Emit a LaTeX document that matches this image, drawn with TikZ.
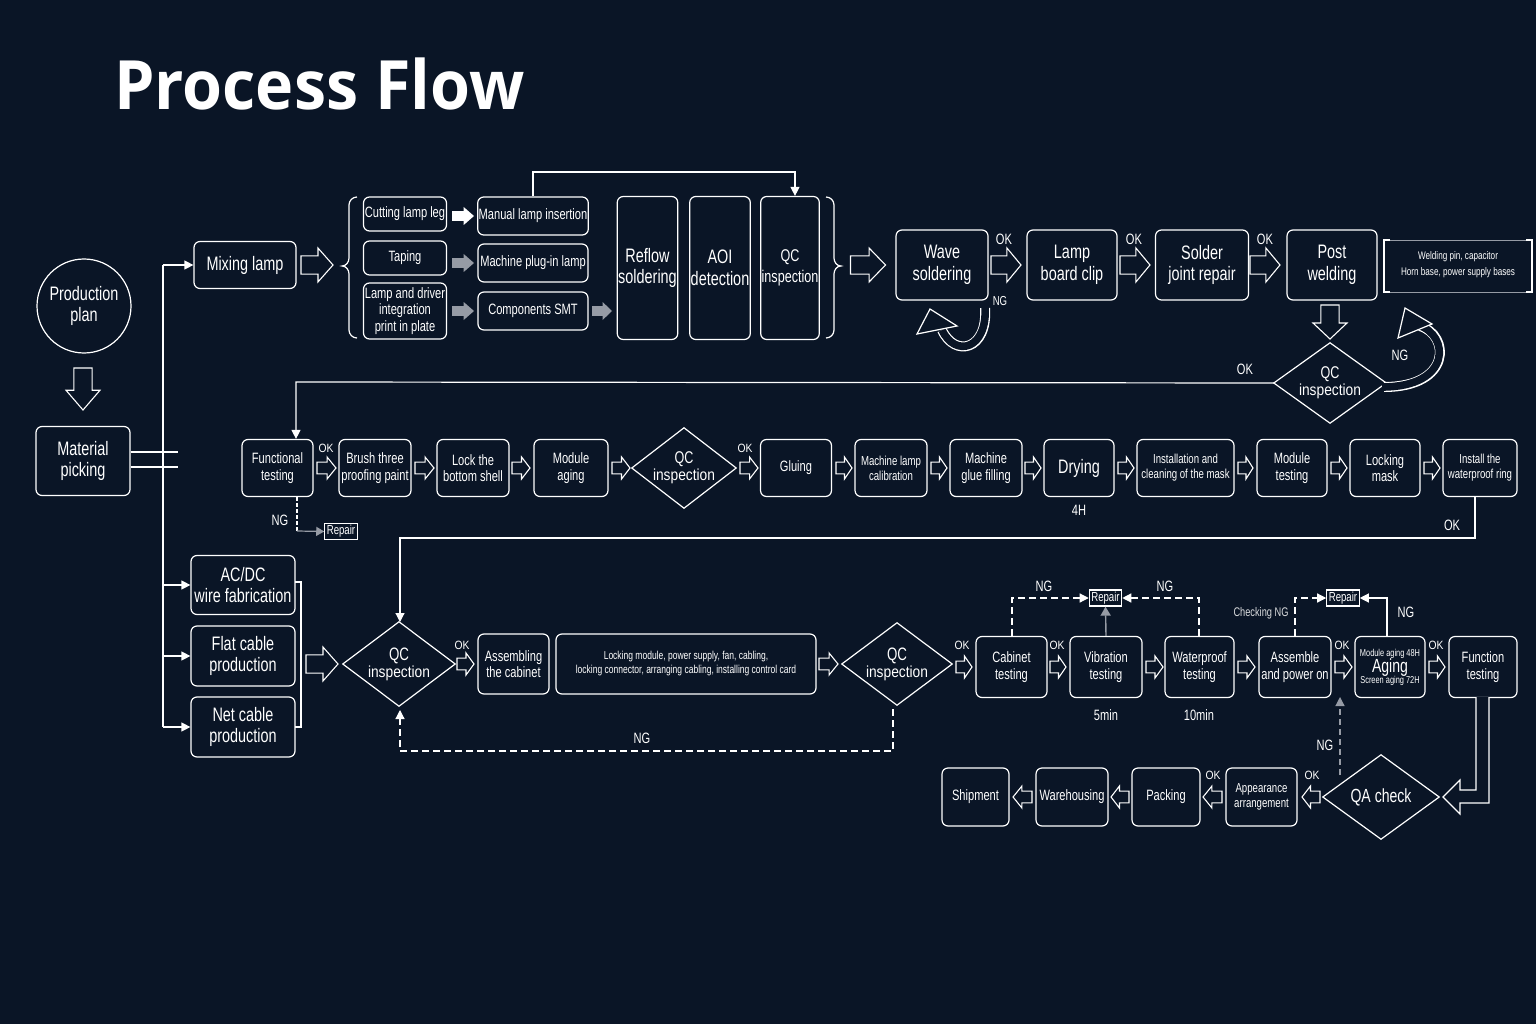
\documentclass[tikz,border=0pt]{standalone}
\usepackage{fontspec}
\setmainfont{Liberation Sans}[FakeStretch=0.86]
\newfontfamily\nar{Liberation Sans}[FakeStretch=0.74]
\newfontfamily\titlefont{Open Sans}[FakeStretch=0.95]
\usetikzlibrary{arrows.meta}
\definecolor{bg}{RGB}{10,21,38}
\definecolor{gr}{RGB}{150,155,165}
\tikzset{
 ln/.style={draw=white,line width=1.2pt},
 box/.style={ln,rounded corners=6pt,align=center,text=white,inner sep=1pt},
 sq/.style={ln,align=center,text=white,inner sep=2pt,font=\fontsize{12}{13}\selectfont},
 lab/.style={text=white,inner sep=1pt},
 hol/.style={draw=white,line width=1.1pt,fill=bg,line join=miter},
 tip/.style={-{Triangle[length=9pt,width=9pt]}},
 dsh/.style={ln,dash pattern=on 7pt off 4pt},
}
\newcommand\bx[7]{\node[box,minimum width=#4pt,minimum height=#5pt,font=#6] (#1) at (#2,#3) {#7};}
\newcommand\dia[6]{\node[lab,align=center,minimum width=#4pt,minimum height=#5pt,font=\fontsize{16}{17}\selectfont] (#1) at (#2,#3) {#6};
 \draw[ln] (#1.north)--(#1.east)--(#1.south)--(#1.west)--cycle;}
% cx cy length width rotation style
\newcommand\hb[6]{\begin{scope}[shift={(#1,#2)},rotate=#5]
 \pgfmathsetmacro\La{#3/2}\pgfmathsetmacro\Lb{#3/2-0.47*#3}\pgfmathsetmacro\Sa{0.27*#4}\pgfmathsetmacro\Ha{#4/2}
 \path[#6] (-\La,-\Sa)--(\Lb,-\Sa)--(\Lb,-\Ha)--(\La,0)--(\Lb,\Ha)--(\Lb,\Sa)--(-\La,\Sa)--cycle;
 \end{scope}}
\newcommand\ha[5]{\hb{#1}{#2}{#3}{#4}{#5}{hol}}
\begin{document}
\begin{tikzpicture}[x=1pt,y=-1pt]
\fill[bg] (0,0) rectangle (1536,1024);
\useasboundingbox (0,0) rectangle (1536,1024);
\def\F{\fontsize{19}{21}\selectfont}
\def\FN{\nar\fontsize{19.5}{21.5}\selectfont}
\def\M{\fontsize{14.5}{16}\selectfont}
\def\N{\nar\fontsize{15}{16.5}\selectfont}
\def\S{\fontsize{12}{13.5}\selectfont}
\def\T{\fontsize{10}{11.5}\selectfont}
\node[lab,anchor=west,font=\titlefont\bfseries\fontsize{68}{74}\selectfont] (title) at (113,84) {Process Flow};

% left
\node[ln,circle,minimum size=94pt,text=white,align=center,font=\FN] (plan) at (84,306) {Production\\plan};
\bx{pick}{83}{461}{94}{69}{\FN}{Material\\picking}
\ha{83}{389}{42}{34}{270}
\draw[ln] (pick.east|-0,452) -- (178,452);
\draw[ln] (pick.east|-0,467) -- (178,467);
\draw[ln] (163,265) -- (163,727);
\bx{mix}{245}{265}{102}{47}{\FN}{Mixing lamp}
\bx{acdc}{243}{585}{104}{59}{\FN}{AC/DC\\wire fabrication}
\bx{flat}{243}{656}{104}{60}{\FN}{Flat cable\\production}
\bx{net}{243}{727}{104}{60}{\FN}{Net cable\\production}
\foreach \n/\y in {mix/265,acdc/585,flat/656,net/727} \draw[ln,tip] (163,\y) -- (\n.west|-0,\y);
\ha{317}{265}{32}{34}{0}

% top group
\draw[ln] (357,197) to[out=180,in=90] (349,205) -- (349,258) to[out=270,in=0] (342,266) to[out=0,in=90] (349,274) -- (349,330) to[out=270,in=180] (357,338);
\draw[ln] (826,197) to[out=0,in=90] (834,205) -- (834,258) to[out=270,in=180] (841,266) to[out=180,in=90] (834,274) -- (834,330) to[out=270,in=0] (826,338);
\bx{cut}{405}{214}{83}{34}{\N}{Cutting lamp leg}
\bx{tap}{405}{258}{83}{34}{\N}{Taping}
\bx{ldi}{405}{311}{83}{56}{\N}{Lamp and driver\\integration\\print in plate}
\bx{man}{533}{216}{110}{38}{\N}{Manual lamp insertion}
\bx{mpl}{533}{263}{110}{38}{\N}{Machine plug-in lamp}
\bx{smt}{533}{311}{110}{38}{\N}{Components SMT}
\bx{ref}{647.5}{268}{59}{143}{\FN}{Reflow\\soldering}
\bx{aoi}{720}{268}{54}{143}{\FN}{AOI\\detection}
\bx{qc1}{790}{268}{50}{143}{\nar\fontsize{17}{21}\selectfont}{QC\\inspection}
\hb{463}{216}{22}{18}{0}{fill=white}
\hb{463}{263}{22}{18}{0}{fill=gr}
\hb{463}{311}{22}{18}{0}{fill=gr}
\hb{602}{311}{20}{18}{0}{fill=gr}
\draw[ln,tip] (man.north) -- (533,172) -- (795,172) -- (795,0 |- qc1.north);
\ha{868}{265}{35}{34}{0}

% wave row
\bx{wave}{942}{265}{92}{70}{\FN}{Wave\\soldering}
\bx{clip}{1072}{265}{90}{70}{\FN}{Lamp\\board clip}
\bx{sjr}{1202}{265}{93}{70}{\FN}{Solder\\joint repair}
\bx{post}{1332}{265}{90}{70}{\FN}{Post\\welding}
\ha{1006}{265}{30}{34}{0}\node[lab,font=\N] at (1004,239) {OK};
\ha{1135}{265}{30}{34}{0}\node[lab,font=\N] at (1134,239) {OK};
\ha{1265}{265}{30}{34}{0}\node[lab,font=\N] at (1265,239) {OK};
\node[lab,align=center,font=\nar\fontsize{11}{12}\selectfont,minimum width=148pt,minimum height=52pt] (weld) at (1458,265) {Welding pin, capacitor\\[4pt]Horn base, power supply bases};
\draw[ln] (1390,240)--(1384,240)--(1384,292)--(1390,292);
\draw[ln] (1526,240)--(1532,240)--(1532,292)--(1526,292);
\draw[gr,line width=0.6pt] (1390,240)--(1526,240) (1390,292)--(1526,292);
\node[lab,font=\nar\fontsize{13}{14}\selectfont] at (1000,301) {NG};
\draw[white,line width=10pt] (985,308) .. controls (988,350) and (955,358) .. (942,330);
\draw[bg,line width=7.6pt] (985,306) .. controls (988,350) and (955,358) .. (942,330);
\draw[ln,fill=bg,line join=miter] (930,309) -- (917,334) -- (957,326) -- cycle;
\ha{1330}{322}{34}{34}{270}
\dia{qc2}{1330}{383}{112}{80}{\nar\fontsize{17}{19}\selectfont QC\\inspection}
\draw[white,line width=10pt] (1384,387) .. controls (1452,387) and (1450,335) .. (1420,326);
\draw[bg,line width=7.6pt] (1382,387) .. controls (1452,387) and (1450,335) .. (1418,325);
\draw[ln,fill=bg,line join=miter] (1405,308) -- (1398,338) -- (1432,324) -- cycle;
\node[lab,font=\N] at (1400,355) {NG};

% row 2
\bx{func}{277.5}{468}{71}{57}{\N}{Functional\\testing}
\bx{brush}{375}{468}{72}{57}{\N}{Brush three\\proofing paint}
\bx{lock}{473}{468}{72}{57}{\N}{Lock the\\bottom shell}
\bx{mage}{571}{468}{74}{57}{\N}{Module\\aging}
\dia{qc3}{684}{468}{104}{80}{\nar\fontsize{17}{19}\selectfont QC\\inspection}
\bx{glue}{796}{468}{71}{57}{\N}{Gluing}
\bx{mlc}{891}{468}{72}{57}{\nar\fontsize{13}{15}\selectfont}{Machine lamp\\calibration}
\bx{mgf}{986}{468}{72}{57}{\N}{Machine\\glue filling}
\bx{dry}{1079}{468}{70}{57}{\FN}{Drying}
\bx{inst}{1185.5}{468}{97}{57}{\nar\fontsize{13}{15}\selectfont}{Installation and\\cleaning of the mask}
\bx{mtest}{1292}{468}{70}{57}{\N}{Module\\testing}
\bx{lmask}{1385}{468}{70}{57}{\N}{Locking\\mask}
\bx{ring}{1480}{468}{74}{57}{\nar\fontsize{13}{15}\selectfont}{Install the\\waterproof ring}
\ha{326.5}{468}{19}{22}{0}\ha{424.5}{468}{19}{22}{0}\ha{521}{468}{18}{22}{0}\ha{621}{468}{18}{22}{0}
\ha{749}{468}{18}{22}{0}\ha{844}{468}{16}{22}{0}\ha{939}{468}{16}{22}{0}\ha{1033}{468}{16}{22}{0}
\ha{1126}{468}{16}{22}{0}\ha{1245.5}{468}{15}{22}{0}\ha{1339}{468}{16}{22}{0}\ha{1432}{468}{16}{22}{0}
\node[lab,font=\S] at (326,448) {OK};
\node[lab,font=\S] at (745,448) {OK};
\node[lab,font=\N] at (1079,510) {4H};
\draw[ln,tip] (qc2.west) -- (296,382) -- (296,0 |- func.north);
\node[lab,font=\N] at (1245,369) {OK};
\node[sq,font=\nar\fontsize{13}{14}\selectfont] (rep0) at (341,531.5) {Repair};
\draw[ln,dash pattern=on 4pt off 2pt] (297,0 |- func.south) -- (297,531);
\draw[gr,line width=1.2pt,-{Triangle[length=8pt,width=9pt]}] (297,531) -- (rep0.west);
\node[lab,font=\N] at (280,520) {NG};
\draw[ln,tip] (1475,0 |- ring.south) -- (1475,538) -- (400,538) -- (400,622);
\node[lab,font=\N] at (1452,525) {OK};

% row 3
\draw[ln] (295,582)--(301,582)--(301,727)--(295,727);
\ha{322}{664}{32}{34}{0}
\dia{qc4}{399}{664}{112}{84}{\nar\fontsize{18}{20}\selectfont QC\\inspection}
\bx{asc}{513.5}{664}{71}{60}{\N}{Assembling\\the cabinet}
\bx{lng}{686}{664}{260}{60}{\nar\fontsize{11.5}{13}\selectfont}{Locking module, power supply, fan, cabling,\\[1pt]locking connector, arranging cabling, installing control card}
\dia{qc5}{897}{664}{110}{82}{\nar\fontsize{18}{20}\selectfont QC\\inspection}
\ha{465.5}{664}{17}{22}{0}\node[lab,font=\S] at (462,645) {OK};
\ha{828.5}{664}{19}{22}{0}
\draw[dsh,tip] (893,709) -- (893,751) -- (400,751) -- (400,710);
\node[lab,font=\N] at (642,738) {NG};
\bx{cab}{1011.5}{667}{71}{61}{\N}{Cabinet\\testing}
\bx{vib}{1106}{667}{72}{61}{\N}{Vibration\\testing}
\bx{wpt}{1199.5}{667}{69}{61}{\N}{Waterproof\\testing}
\bx{apo}{1295}{667}{72}{61}{\N}{Assemble\\and power on}
\node[box,minimum width=70pt,minimum height=61pt,align=center] (aging) at (1390,667) {\nar\fontsize{10}{11}\selectfont Module aging 48H\\[-1pt]\nar\fontsize{19}{20}\selectfont Aging\\[-1pt]\nar\fontsize{10}{11}\selectfont Screen aging 72H};
\bx{ftest}{1483}{667}{68}{61}{\N}{Function\\testing}
\ha{964}{667}{16}{22}{0}\node[lab,font=\S] at (962,645) {OK};
\ha{1058}{667}{16}{22}{0}\node[lab,font=\S] at (1057,645) {OK};
\ha{1154.5}{667}{17}{22}{0}
\ha{1246.5}{667}{17}{22}{0}
\ha{1343.5}{667}{17}{22}{0}\node[lab,font=\S] at (1342,645) {OK};
\ha{1437}{667}{16}{22}{0}\node[lab,font=\S] at (1436,645) {OK};
\node[lab,font=\N] at (1106,715) {5min};
\node[lab,font=\N] at (1199,715) {10min};
\node[sq,font=\nar\fontsize{13}{14}\selectfont] (rep1) at (1105.5,598) {Repair};
\node[sq,font=\nar\fontsize{13}{14}\selectfont] (rep2) at (1343,598) {Repair};
\draw[dsh,tip] (1012,0 |- cab.north) -- (1012,598) -- (rep1.west);
\draw[dsh,tip] (1199,0 |- wpt.north) -- (1199,598) -- (rep1.east);
\draw[gr,line width=1.4pt,-{Triangle[length=9pt,width=10pt]}] (1106,0 |- vib.north) -- (rep1.south);
\node[lab,font=\N] at (1044,586) {NG};
\node[lab,font=\N] at (1165,586) {NG};
\draw[dsh,tip] (1295,0 |- apo.north) -- (1295,598) -- (rep2.west);
\draw[ln,tip] (1387,0 |- aging.north) -- (1387,598) -- (rep2.east);
\node[lab,font=\nar\fontsize{12.5}{14}\selectfont,text=white!85!bg] at (1261,613) {Checking NG};
\node[lab,font=\N] at (1406,612) {NG};

% bottom row
\dia{qa}{1381}{797}{116}{84}{\nar\fontsize{19}{20}\selectfont QA check}
\draw[ln,fill=bg] (1476,697)--(1476,790)--(1460,790)--(1460,780)--(1443,797)--(1460,814)--(1460,803)--(1489,803)--(1489,697);
\draw[ln,dash pattern=on 6pt off 4pt,draw=gr,-{Triangle[length=9pt,width=9pt]}] (1340,775) -- (1340,697);
\node[lab,font=\N] at (1325,745) {NG};
\bx{app}{1261.5}{797}{71}{58}{\nar\fontsize{13}{15}\selectfont}{Appearance\\arrangement}
\bx{pack}{1166}{797}{68}{58}{\N}{Packing}
\bx{ware}{1072}{797}{72}{58}{\N}{Warehousing}
\bx{ship}{975.5}{797}{67}{58}{\N}{Shipment}
\ha{1311}{797}{18}{22}{180}\node[lab,font=\S] at (1312,775) {OK};
\ha{1212.5}{797}{19}{22}{180}\node[lab,font=\S] at (1213,775) {OK};
\ha{1120}{797}{18}{22}{180}
\ha{1022.5}{797}{19}{22}{180}
\end{tikzpicture}
\end{document}
